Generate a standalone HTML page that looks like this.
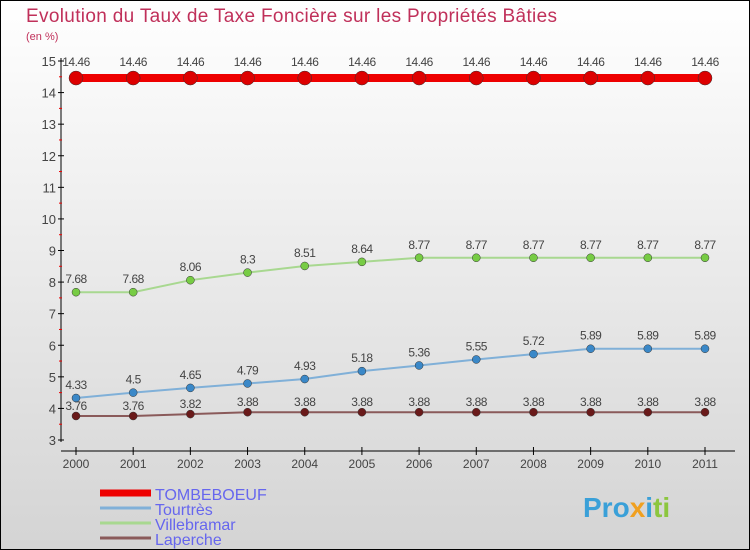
<!DOCTYPE html>
<html><head><meta charset="utf-8"><style>
body{margin:0}
#c{width:750px;height:550px;position:relative;box-sizing:border-box;border:1px solid #000;background:linear-gradient(#ffffff,#d4d4d4);font-family:"Liberation Sans","DejaVu Sans",sans-serif;overflow:hidden}
</style></head><body>
<div id="c">
<svg id="s" width="750" height="550" style="position:absolute;left:-1px;top:-1px">
<text x="26" y="22" font-size="19" fill="#c0305a" textLength="531">Evolution du Taux de Taxe Foncière sur les Propriétés Bâties</text>
<text x="26" y="40" font-size="11" fill="#c0305a">(en %)</text>
<text x="583" y="517" font-size="28" font-weight="bold" fill="#3aa0d8">Pro<tspan fill="#f0a020">x</tspan><tspan fill="#3aa0d8">i</tspan><tspan fill="#8cc63f">ti</tspan></text>
<g id="g"></g>
</svg>
</div>
<script>
const years=["2000","2001","2002","2003","2004","2005","2006","2007","2008","2009","2010","2011"];
const tombeboeuf=[14.46,14.46,14.46,14.46,14.46,14.46,14.46,14.46,14.46,14.46,14.46,14.46];
const tourtres=[4.33,4.5,4.65,4.79,4.93,5.18,5.36,5.55,5.72,5.89,5.89,5.89];
const villebramar=[7.68,7.68,8.06,8.3,8.51,8.64,8.77,8.77,8.77,8.77,8.77,8.77];
const laperche=[3.76,3.76,3.82,3.88,3.88,3.88,3.88,3.88,3.88,3.88,3.88,3.88];
const yTicks=[3,4,5,6,7,8,9,10,11,12,13,14,15];
const names=["TOMBEBOEUF","Tourtrès","Villebramar","Laperche"];
const NS="http://www.w3.org/2000/svg";
const g=document.getElementById('g');
const X=i=>76+i*(705-76)/(years.length-1);
const Y=v=>440-(v-3)*(440-61)/12;
function el(t,a,txt){const e=document.createElementNS(NS,t);for(const k in a)e.setAttribute(k,a[k]);if(txt!==undefined)e.textContent=txt;g.appendChild(e);return e;}
let e=el('line',{x1:61,y1:58,x2:61,y2:442,stroke:'#000'});


e=el('line',{x1:61,y1:451,x2:735,y2:451,stroke:'#000'});


yTicks.forEach(v=>{
 el('line',{x1:58,y1:Y(v),x2:64,y2:Y(v),stroke:'#000'});
 if(v<15){el('line',{x1:59,y1:Y(v+0.5),x2:62,y2:Y(v+0.5),stroke:'#e00'});}
 const t=el('text',{x:56,y:Y(v)+5,'text-anchor':'end','font-size':13,fill:'#444'},v);
 
 
});
years.forEach((y,i)=>{
 el('line',{x1:X(i),y1:447,x2:X(i),y2:455,stroke:'#000'});
 const t=el('text',{x:X(i),y:468,'text-anchor':'middle','font-size':12,fill:'#444'},y);
 
 
});
const series=[[tombeboeuf,'#ee0000','#dd0000',8,7],[villebramar,'#a8d890','#77cc44',2,4],[tourtres,'#80b0d8','#3a88c8',2,4],[laperche,'#8a5a5a','#6a1a1a',2,4]];
series.forEach(([d,lc,pc,w,r],si)=>{
 const p=el('polyline',{points:d.map((v,i)=>X(i)+','+Y(v)).join(' '),fill:'none',stroke:lc,'stroke-width':w});
 
 
 d.forEach((v,i)=>{
  const c=el('circle',{cx:X(i),cy:Y(v),r:r,fill:pc,stroke:'#333','stroke-width':0.5});
  
  
  const off=si===0?-12:(si===3?-6:-9);
  const t=el('text',{x:X(i),y:si===0?66:Y(v)+off,'text-anchor':'middle','font-size':12,fill:'#444','letter-spacing':'-0.5'},String(v));
  
  
 });
});
const lc=['#ee0000','#80b0d8','#a8d890','#8a5a5a'],lw=[7,3,3,3];
names.forEach((n,i)=>{
 const y=493+i*15;
 const l=el('line',{x1:100,y1:y,x2:151,y2:y,stroke:lc[i],'stroke-width':lw[i]});
 
 
 const t=el('text',{x:155,y:y+7,'font-size':16,fill:'#6666ee'},n);
 
 
});
</script>
</body></html>
